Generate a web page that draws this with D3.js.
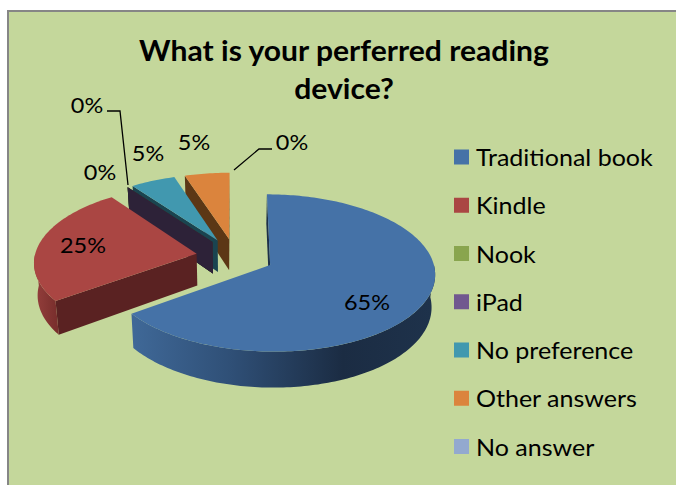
<!DOCTYPE html>
<html>
<head>
<meta charset="utf-8">
<script src="https://cdn.jsdelivr.net/npm/d3@7"></script>
<style>
  html, body { margin: 0; padding: 0; background: #fff; overflow: hidden; }
  svg { display: block; }
  text { font-family: Lato, "Open Sans", sans-serif; fill: #000; }
</style>
</head>
<body>
<div id="chart"></div>
<script>
const categories = ["Traditional book", "Kindle", "Nook", "iPad", "No preference", "Other answers", "No answer"];
const shares = [65, 25, 0, 0, 5, 5, 0];
const colors = ["#4572a7", "#aa4643", "#89a54e", "#71588f", "#4198af", "#db843d", "#93a9cf"];
const sideColors = ["#1d3049", "#5a2222", "#3c4a22", "#2d2238", "#1a4450", "#5c3715", "#3f4a5c"];
const titleLines = ["What is your perferred reading", "device?"];
const labelText = ["65%", "25%", "0%", "0%", "5%", "5%", "0%"];

const width = 676;
const height = 485;

// pie geometry, worked out from the picture
const cx = 235, cy = 256.6;
const R = 162, tilt = 0.47, persp = 0.1, depth = 32, explode = 39;
const stretch = 1.065; // the text in the picture is a bit wider than Lato
const labelPos = [[367, 302], [83, 245], [100, 172], [87, 105], [148, 153], [194, 142], [292, 142]];
const leaders = [
  [[107, 111], [120, 111], [128, 185]],
  [[234, 170], [259, 149], [272, 149]]
];

const svg = d3.select("#chart").append("svg")
  .attr("width", width)
  .attr("height", height);

svg.append("rect")
  .attr("x", 8).attr("y", 11)
  .attr("width", 700).attr("height", 500)
  .attr("fill", "#c4d79b")
  .attr("stroke", "#868686")
  .attr("stroke-width", 2);

const defs = svg.append("defs");
const blueWall = defs.append("linearGradient")
  .attr("id", "wall0").attr("gradientUnits", "userSpaceOnUse")
  .attr("x1", 134).attr("x2", 432).attr("y1", 0).attr("y2", 0);
[[0, "#3f6897"], [0.33, "#2f4f76"], [0.7, "#1b2c43"], [1, "#1e324b"]].forEach(s =>
  blueWall.append("stop").attr("offset", s[0]).attr("stop-color", s[1]));
const redWall = defs.append("linearGradient")
  .attr("id", "wall1").attr("gradientUnits", "userSpaceOnUse")
  .attr("x1", 33).attr("x2", 56).attr("y1", 0).attr("y2", 0);
[[0, "#96403d"], [1, "#7a2f2d"]].forEach(s =>
  redWall.append("stop").attr("offset", s[0]).attr("stop-color", s[1]));

// u, v on the pie plane, z = 0 top face, z = 1 bottom face
function project(u, v, z) {
  const s = 1 / (1 - persp * v / R);
  return [cx + u * s * (1 - 0.018 * z), cy + (v * tilt + depth * z) * s];
}

const pie = d3.pie().sort(null).value(d => d);
const arcs = pie(shares);
const line = d3.line();

function rimPoints(a0, a1, ox, oy, z) {
  const n = Math.max(1, Math.ceil((a1 - a0) / 0.02));
  return d3.range(n + 1).map(i => {
    const a = a0 + (a1 - a0) * i / n;
    return project(ox + R * Math.sin(a), oy - R * Math.cos(a), z);
  });
}

// back slices first, blue goes last
const order = [6, 5, 4, 2, 3, 1, 0];
order.forEach(i => {
  const d = arcs[i];
  const mid = (d.startAngle + d.endAngle) / 2;
  const ox = explode * Math.sin(mid), oy = -explode * Math.cos(mid);
  const g = svg.append("g").attr("class", "slice");
  const apexTop = project(ox, oy, 0), apexBot = project(ox, oy, 1);
  const flat = d.endAngle === d.startAngle;

  [d.startAngle, d.endAngle].forEach((a, k) => {
    const outTop = project(ox + R * Math.sin(a), oy - R * Math.cos(a), 0);
    const outBot = project(ox + R * Math.sin(a), oy - R * Math.cos(a), 1);
    const face = [apexTop, outTop, outBot, apexBot];
    const area = d3.polygonArea(face);
    // start side faces the viewer with one winding, end side with the other
    if (flat || (k === 0 ? area > 0 : area < 0)) {
      g.append("path")
        .attr("d", line(face) + "Z")
        .attr("fill", sideColors[i]);
    }
  });

  // outer wall only where the rim faces the viewer
  const a0 = Math.max(d.startAngle, Math.PI / 2);
  const a1 = Math.min(d.endAngle, Math.PI * 1.5);
  if (a1 > a0) {
    const wall = rimPoints(a0, a1, ox, oy, 0).concat(rimPoints(a0, a1, ox, oy, 1).reverse());
    g.append("path")
      .attr("d", line(wall) + "Z")
      .attr("fill", i < 2 ? `url(#wall${i})` : sideColors[i]);
  }

  if (!flat) {
    const top = [apexTop].concat(rimPoints(d.startAngle, d.endAngle, ox, oy, 0));
    g.append("path")
      .attr("d", line(top) + "Z")
      .attr("fill", colors[i]);
  }
});

svg.selectAll(".leader")
  .data(leaders)
  .join("path")
  .attr("class", "leader")
  .attr("d", line)
  .attr("fill", "none")
  .attr("stroke", "#000")
  .attr("stroke-width", 1.3);

svg.selectAll(".data-label")
  .data(labelText)
  .join("text")
  .attr("class", "data-label")
  .attr("transform", (d, i) => `translate(${labelPos[i][0]},${labelPos[i][1]}) scale(${stretch},1)`)
  .attr("text-anchor", "middle")
  .attr("dominant-baseline", "central")
  .attr("font-size", 22)
  .text(d => d);

svg.selectAll(".title")
  .data(titleLines)
  .join("text")
  .attr("class", "title")
  .attr("transform", (d, i) => `translate(344,${61 + i * 38}) scale(1.075,1)`)
  .attr("text-anchor", "middle")
  .attr("font-size", 28)
  .attr("font-weight", 700)
  .text(d => d);

const legendY = d3.scalePoint().domain(categories).range([157, 446.5]);
const legend = svg.selectAll(".legend")
  .data(categories)
  .join("g")
  .attr("class", "legend")
  .attr("transform", d => `translate(454,${legendY(d)})`);
legend.append("rect")
  .attr("x", 0).attr("y", -7.5)
  .attr("width", 15).attr("height", 15)
  .attr("fill", (d, i) => colors[i]);
legend.append("text")
  .attr("transform", `translate(22,0) scale(${stretch},1)`)
  .attr("dominant-baseline", "central")
  .attr("font-size", 23.5)
  .text(d => d);
</script>
</body>
</html>
